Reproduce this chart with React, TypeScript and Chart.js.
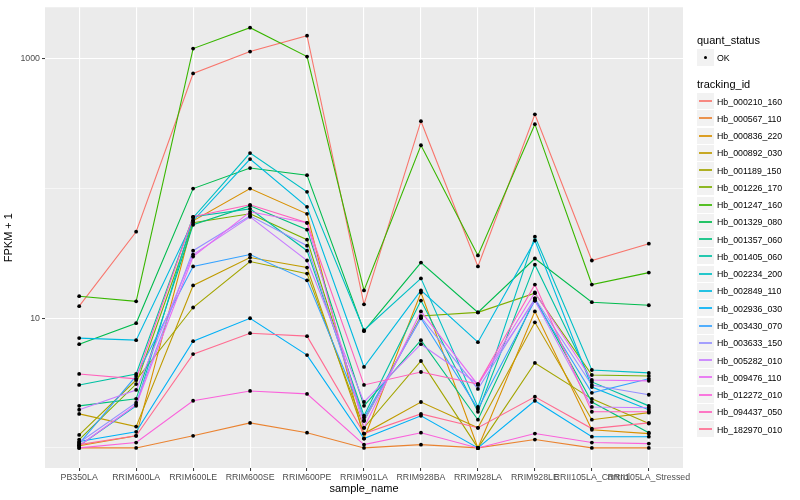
import React, { useEffect, useRef } from "react";
import { Chart, registerables } from "chart.js";
Chart.register(...registerables);

const FONT = "'Liberation Sans', Arial, Helvetica, sans-serif";

const categories = [
  "PB350LA", "RRIM600LA", "RRIM600LE", "RRIM600SE", "RRIM600PE", "RRIM901LA",
  "RRIM928BA", "RRIM928LA", "RRIM928LE", "RRII105LA_Control", "RRII105LA_Stressed",
];

const trackingIds = [
  "Hb_000210_160", "Hb_000567_110", "Hb_000836_220", "Hb_000892_030", "Hb_001189_150",
  "Hb_001226_170", "Hb_001247_160", "Hb_001329_080", "Hb_001357_060", "Hb_001405_060",
  "Hb_002234_200", "Hb_002849_110", "Hb_002936_030", "Hb_003430_070", "Hb_003633_150",
  "Hb_005282_010", "Hb_009476_110", "Hb_012272_010", "Hb_094437_050", "Hb_182970_010",
];

const seriesColors = [
  "#F8766D", "#EA8331", "#D89000", "#C09B00", "#A3A500", "#7CAE00", "#39B600", "#00BB4E",
  "#00BF7D", "#00C1A3", "#00BFC4", "#00BAE0", "#00B0F6", "#35A2FF", "#9590FF", "#C77CFF",
  "#E76BF3", "#FA62DB", "#FF62BC", "#FF6C91",
];

// FPKM + 1 values per tracking id, in category order
const hb000210_160 = [12.4, 46.5, 773, 1140, 1513, 12.8, 331, 25.1, 374, 27.9, 37.6];
const hb000567_110 = [1.0, 1.0, 1.24, 1.56, 1.31, 1.0, 1.06, 1.0, 1.16, 1.0, 1.0];
const hb000836_220 = [1.04, 1.24, 56.5, 100, 63.9, 1.18, 15.8, 1.0, 11.3, 1.38, 1.29];
const hb000892_030 = [1.83, 1.46, 17.9, 29.4, 24.6, 1.29, 2.26, 1.43, 9.31, 1.65, 1.87];
const hb001189_150 = [1.26, 3.34, 12.1, 27.4, 22.1, 1.43, 4.68, 1.0, 4.52, 2.39, 1.54];
const hb001226_170 = [1.16, 3.11, 54.5, 63.9, 40.4, 1.62, 10.4, 11.1, 15.6, 3.65, 3.59];
const hb001247_160 = [14.8, 13.5, 1202, 1742, 1043, 16.4, 216, 30.5, 314, 18.2, 22.5];
const hb001329_080 = [6.31, 9.16, 100, 144, 127, 7.95, 26.9, 11.1, 28.9, 13.3, 12.6];
const hb001357_060 = [2.11, 2.39, 52.6, 73.6, 48.2, 2.11, 6.78, 1.65, 14.2, 2.26, 1.31];
const hb001405_060 = [3.06, 3.72, 60.6, 69.8, 33.2, 1.77, 13.7, 1.9, 25.9, 3.23, 2.11];
const hb002234_200 = [1.04, 2.11, 59.6, 188, 94.4, 8.09, 20.3, 2.07, 42.6, 3.99, 3.79];
const hb002849_110 = [7.03, 6.78, 56.5, 169, 72.4, 4.21, 16.4, 6.54, 39.7, 2.95, 1.97];
const hb002936_030 = [1.12, 1.33, 6.66, 10.0, 5.2, 1.18, 1.77, 1.0, 2.31, 1.22, 1.22];
const hb003430_070 = [1.08, 3.59, 25.1, 31.0, 19.6, 1.71, 10.0, 2.0, 13.7, 2.66, 3.41];
const hb003633_150 = [1.1, 2.23, 33.2, 61.7, 36.3, 1.62, 10.2, 2.85, 14.2, 3.06, 2.57];
const hb005282_010 = [1.97, 2.8, 31.0, 60.6, 27.9, 2.26, 6.31, 3.11, 13.7, 2.07, 2.04];
const hb009476_110 = [1.04, 2.15, 29.9, 66.2, 54.5, 1.43, 11.3, 3.06, 15.8, 3.34, 3.29];
const hb012272_010 = [1.0, 1.1, 2.31, 2.75, 2.61, 1.06, 1.31, 1.0, 1.29, 1.1, 1.08];
const hb094437_050 = [3.72, 3.41, 60.6, 75.0, 54.5, 3.06, 3.85, 3.11, 18.2, 1.9, 1.9];
const hb182970_010 = [1.06, 1.24, 5.29, 7.67, 7.28, 1.29, 1.83, 1.43, 2.48, 1.41, 1.56];

const seriesValues = [
  hb000210_160, hb000567_110, hb000836_220, hb000892_030, hb001189_150,
  hb001226_170, hb001247_160, hb001329_080, hb001357_060, hb001405_060,
  hb002234_200, hb002849_110, hb002936_030, hb003430_070, hb003633_150,
  hb005282_010, hb009476_110, hb012272_010, hb094437_050, hb182970_010,
];

const yTickValues = [1, 10, 100, 1000];
const yLabeled = [10, 1000];

const panelBg = {
  id: "panelBg",
  beforeDraw(chart: any) {
    const { ctx, chartArea: a } = chart;
    ctx.save();
    ctx.fillStyle = "#EBEBEB";
    ctx.fillRect(a.left, a.top, a.right - a.left, a.bottom - a.top);
    ctx.restore();
  },
};

export default function App() {
  const ref = useRef<HTMLCanvasElement>(null);

  useEffect(() => {
    if (!ref.current) return;
    const lineSets = seriesValues.map((vals, i) => ({
      type: "line" as const,
      label: trackingIds[i],
      data: vals.map((v, j) => ({ x: j, y: v })),
      borderColor: seriesColors[i],
      backgroundColor: seriesColors[i],
      borderWidth: 1.1,
      pointRadius: 0,
      fill: false,
      tension: 0,
      order: 100 - i,
    }));
    const pointSet = {
      type: "scatter" as const,
      label: "OK",
      data: seriesValues.flatMap((vals) => vals.map((v, j) => ({ x: j, y: v }))),
      backgroundColor: "#000000",
      borderColor: "#000000",
      borderWidth: 0,
      pointRadius: 1.9,
      showLine: false,
      order: 0,
    };
    const isMajor = (c: any) => c.tick && yLabeled.includes(c.tick.value);
    const chart = new Chart(ref.current, {
      type: "line",
      data: { datasets: [...lineSets, pointSet] as any },
      plugins: [panelBg],
      options: {
        animation: false,
        responsive: true,
        maintainAspectRatio: false,
        layout: { padding: { left: 0, right: 117, top: 5, bottom: 0 } },
        plugins: { legend: { display: false }, tooltip: { enabled: false } },
        scales: {
          x: {
            type: "linear",
            min: -0.6,
            max: 10.6,
            afterBuildTicks: (ax: any) => {
              ax.ticks = categories.map((_, i) => ({ value: i }));
            },
            afterFit: (s: any) => {
              s.height = 32;
            },
            ticks: {
              autoSkip: false,
              maxRotation: 0,
              minRotation: 0,
              color: "#4D4D4D",
              padding: 1,
              font: { family: FONT, size: 8.8 },
              callback: (v: any) => categories[v as number] ?? "",
            },
            grid: {
              color: "#FFFFFF",
              lineWidth: 1.1,
              tickColor: "#333333",
              tickLength: 3,
              tickWidth: 1,
            },
            border: { display: false },
            title: {
              display: true,
              text: "sample_name",
              color: "#000000",
              font: { family: FONT, size: 11 },
              padding: { top: 2, bottom: 4 },
            },
          },
          y: {
            type: "logarithmic",
            min: 0.709,
            max: 2503,
            afterBuildTicks: (ax: any) => {
              ax.ticks = yTickValues.map((v) => ({ value: v }));
            },
            afterFit: (s: any) => {
              s.width = 45;
            },
            ticks: {
              autoSkip: false,
              color: "#4D4D4D",
              padding: 2,
              font: { family: FONT, size: 8.8 },
              callback: (v: any) => (yLabeled.includes(v as number) ? String(v) : ""),
            },
            grid: {
              color: "#FFFFFF",
              lineWidth: (c: any) => (isMajor(c) ? 1.1 : 0.55),
              tickColor: (c: any) => (isMajor(c) ? "#333333" : "rgba(0,0,0,0)"),
              tickLength: 3,
              tickWidth: 1,
            },
            border: { display: false },
            title: {
              display: true,
              text: "FPKM + 1",
              color: "#000000",
              font: { family: FONT, size: 11 },
              padding: { top: 2, bottom: 2 },
            },
          },
        },
      } as any,
    });
    return () => chart.destroy();
  }, []);

  const rowH = 17.27;
  const firstCenter = 101;

  const textStyle = (cy: number, size: number, left: number): React.CSSProperties => ({
    position: "absolute",
    left,
    top: Math.round(cy - 8),
    height: 16,
    lineHeight: "16px",
    fontSize: size,
    fontFamily: FONT,
    color: "#000",
    whiteSpace: "nowrap",
  });

  return (
    <div style={{ position: "fixed", left: 0, top: 0, width: 800, height: 500, background: "#fff" }}>
      <canvas ref={ref} style={{ position: "absolute", left: 0, top: 0, width: 800, height: 500 }} />
      <div style={textStyle(40, 11, 697)}>quant_status</div>
      <div
        style={{
          position: "absolute",
          left: 697,
          top: 49,
          width: 17,
          height: 17,
          background: "#F2F2F2",
        }}
      >
        <div
          style={{
            position: "absolute",
            left: 7,
            top: 7,
            width: 3,
            height: 3,
            borderRadius: "50%",
            background: "#000",
          }}
        />
      </div>
      <div style={textStyle(57.5, 8.8, 717)}>OK</div>
      <div style={textStyle(84, 11, 697)}>tracking_id</div>
      {trackingIds.map((id, i) => {
        const cy = firstCenter + rowH * i;
        const boxTop = Math.round(cy - 8);
        return (
          <React.Fragment key={id}>
            <div
              style={{
                position: "absolute",
                left: 697,
                top: boxTop,
                width: 17,
                height: 16,
                background: "#F2F2F2",
              }}
            >
              <div
                style={{
                  position: "absolute",
                  left: 2,
                  width: 13,
                  top: 7,
                  height: 2,
                  background: seriesColors[i],
                  opacity: 0.85,
                }}
              />
            </div>
            <div style={textStyle(cy + 0.5, 8.8, 717)}>{id}</div>
          </React.Fragment>
        );
      })}
    </div>
  );
}
